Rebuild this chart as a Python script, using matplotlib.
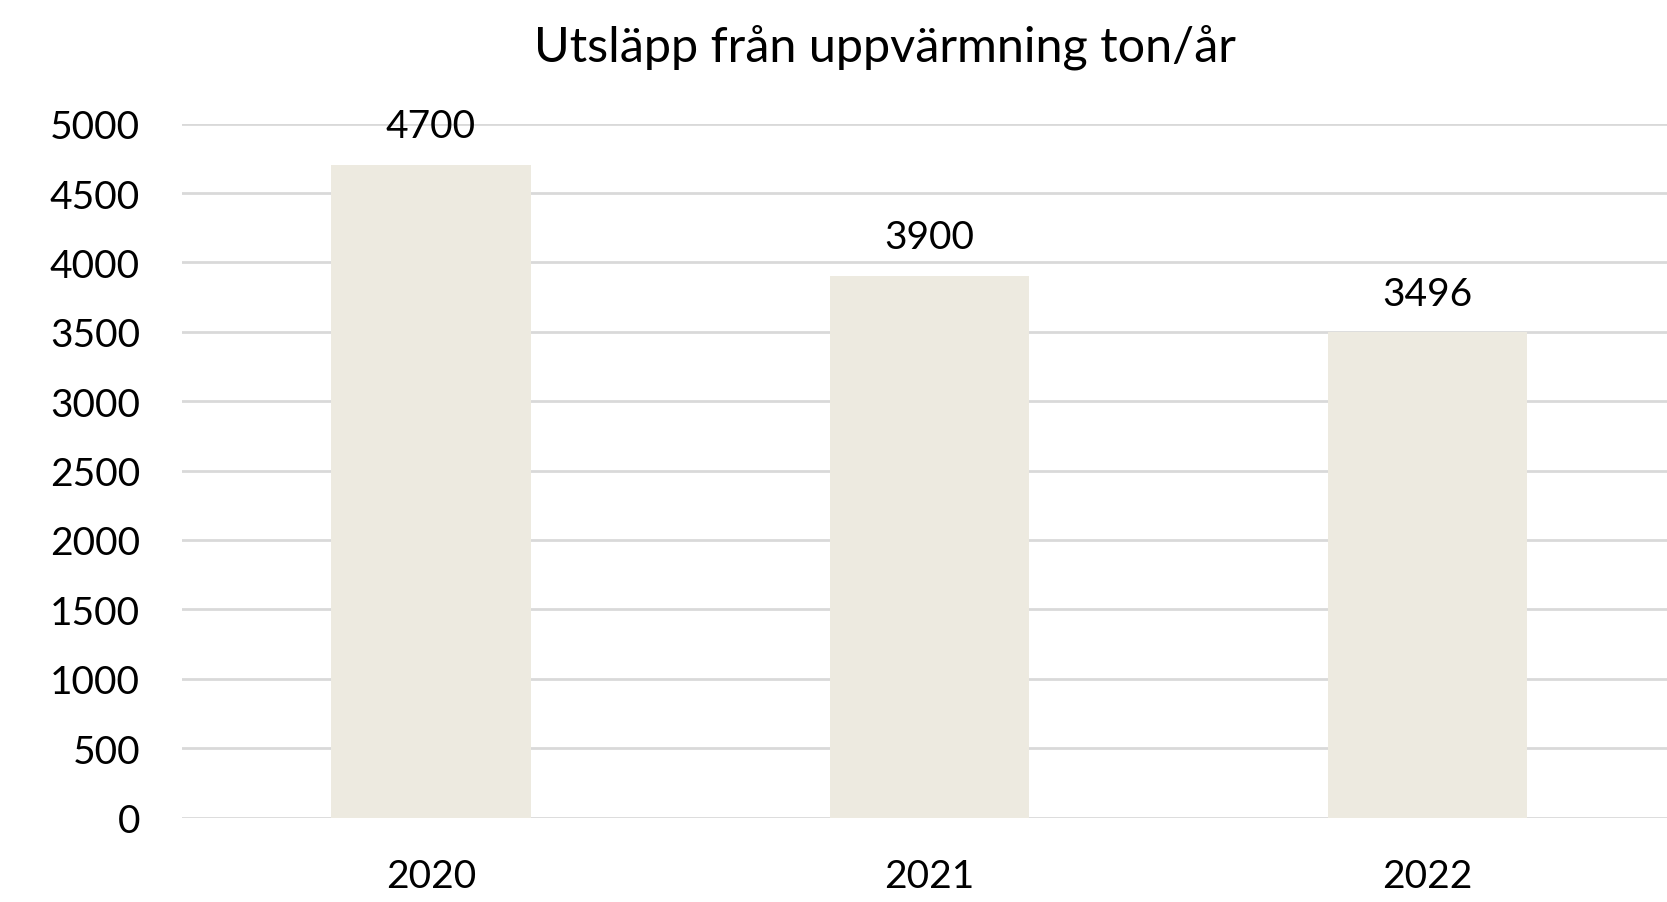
import matplotlib
matplotlib.use("Agg")
import matplotlib.pyplot as plt

# Data
years = ["2020", "2021", "2022"]
utslapp = [4700, 3900, 3496]
yticks = [0, 500, 1000, 1500, 2000, 2500, 3000, 3500, 4000, 4500, 5000]

plt.rcParams['font.family'] = ['Lato', 'DejaVu Sans']

fig = plt.figure(figsize=(16.67, 9.03), dpi=100)
ax = fig.add_axes([0.109, 0.0935, 0.897, 0.7685])

x = range(len(years))
bars = ax.bar(x, utslapp, width=0.4, color='#EDEAE0', zorder=3)

for xi, v in zip(x, utslapp):
    ax.annotate(str(v), (xi, v), xytext=(0, 15), textcoords='offset points',
                ha='center', va='bottom', fontsize=28, color='black')

ax.set_xlim(-0.5, 2.5)
ax.set_ylim(0, 5000)
ax.set_yticks(yticks)
ax.set_xticks(list(x))
ax.set_xticklabels(years)
ax.tick_params(axis='both', length=0, labelsize=28, colors='black')
ax.tick_params(axis='x', pad=29)
ax.tick_params(axis='y', pad=30)
ax.yaxis.grid(True, color='#D9D9D9', linewidth=2, zorder=0)
ax.set_axisbelow(True)
for s in ax.spines.values():
    s.set_visible(False)

fig.text(0.531, 0.948, "Utsläpp från uppvärmning ton/år", ha='center', va='center',
         fontsize=35, color='black')

fig.savefig("out.png", dpi=100)
